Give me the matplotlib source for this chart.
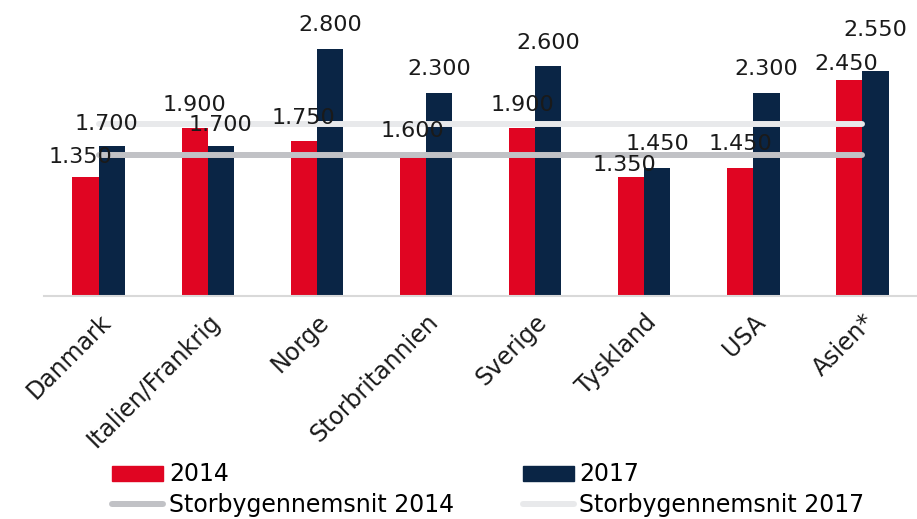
import matplotlib
matplotlib.use("Agg")
import matplotlib.pyplot as plt
import numpy as np
from matplotlib.patches import Patch
from matplotlib.lines import Line2D

categories = ["Danmark", "Italien/Frankrig", "Norge", "Storbritannien",
              "Sverige", "Tyskland", "USA", "Asien*"]
values_2014 = [1350, 1900, 1750, 1600, 1900, 1350, 1450, 2450]
values_2017 = [1700, 1700, 2800, 2300, 2600, 1450, 2300, 2550]
avg_2014 = 1600
avg_2017 = 1950

RED = "#E00522"
NAVY = "#0A2545"
GREY_14 = "#C1C2C6"
GREY_17 = "#E8E9EB"

# label nudges (dx, dy) in pixels, relative to the default spot above the bar
nudge_2014 = {0: (-5, -4), 1: (0, 0), 5: (-7, -12), 7: (-3, -8)}
nudge_2017 = {0: (-5, -2), 1: (0, -3), 7: (0, 17)}

plt.rcParams["font.family"] = ["DejaVu Sans"]

fig = plt.figure(figsize=(9.17, 5.19), dpi=100, facecolor="white")
ax = fig.add_axes([0.048, 0.4297, 0.952, 0.5703])

x = np.arange(len(categories))
w = 0.24
b14 = ax.bar(x - w / 2, values_2014, w, color=RED, zorder=2)
b17 = ax.bar(x + w / 2, values_2017, w, color=NAVY, zorder=2)

ax.plot([x[0], x[-1]], [avg_2014] * 2, color=GREY_14, lw=4.3,
        solid_capstyle="round", zorder=3)
ax.plot([x[0], x[-1]], [avg_2017] * 2, color=GREY_17, lw=4.3,
        solid_capstyle="round", zorder=3)


def fmt(v):
    return f"{v:,}".replace(",", ".")


px = 0.72  # points per pixel at dpi 100
for bars, vals, nudge in ((b14, values_2014, nudge_2014),
                          (b17, values_2017, nudge_2017)):
    for i, (bar, v) in enumerate(zip(bars, vals)):
        dx, dy = nudge.get(i, (0, 0))
        ax.annotate(fmt(v), (bar.get_x() + bar.get_width() / 2, v),
                    xytext=(dx * px, 9.7 + dy * px), textcoords="offset points",
                    ha="center", va="bottom", fontsize=16,
                    color="#1a1a1a", zorder=4)

ax.set_xlim(-0.5, len(categories) - 0.5)
ax.set_ylim(0, 3350)
ax.set_yticks([])
ax.set_xticks(x)
ax.set_xticklabels(categories, rotation=45, ha="right",
                   rotation_mode="anchor", fontsize=17, color="#1a1a1a")
ax.tick_params(axis="x", length=0, pad=10)
for s in ("top", "right", "left"):
    ax.spines[s].set_visible(False)
ax.spines["bottom"].set_color("#D9D9D9")
ax.spines["bottom"].set_linewidth(1.5)

handles = [
    Patch(color=RED, label="2014"),
    Line2D([], [], color=GREY_14, lw=4.3, solid_capstyle="round",
           label="Storbygennemsnit 2014"),
    Patch(color=NAVY, label="2017"),
    Line2D([], [], color=GREY_17, lw=4.3, solid_capstyle="round",
           label="Storbygennemsnit 2017"),
]
fig.legend(handles=handles, ncol=2, loc="lower left",
           bbox_to_anchor=(0.099, -0.037), frameon=False, fontsize=17,
           handlelength=2.16, handleheight=0.6, handletextpad=0.25,
           columnspacing=2.9, labelspacing=0.28)

fig.savefig("out.png", dpi=100, facecolor="white")
